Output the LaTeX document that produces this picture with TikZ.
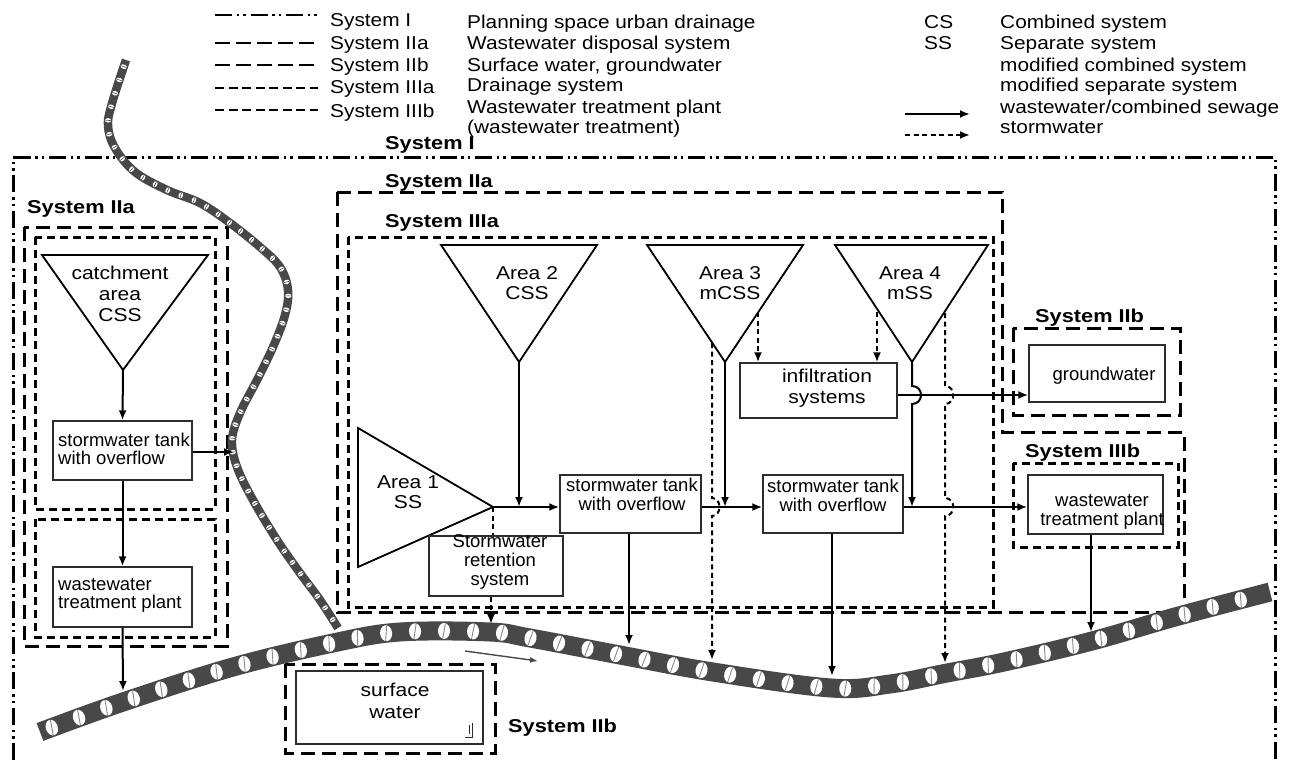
\documentclass[tikz,border=0pt]{standalone}
\usepackage{fontspec}
\setmainfont{Liberation Sans}
\newfontfamily\legf[FakeStretch=1.12]{Liberation Sans}
\newfontfamily\widef[FakeStretch=1.13]{Liberation Sans}
\newfontfamily\labf[FakeStretch=1.17]{Liberation Sans}
\usetikzlibrary{arrows.meta,decorations.markings}
\definecolor{rivc}{RGB}{72,72,72}
\definecolor{boxc}{RGB}{45,45,45}
\tikzset{
  sysI/.style={line width=3pt, dash pattern=on 17pt off 4.5pt on 2.5pt off 4pt on 2.5pt off 5pt},
  sysII/.style={line width=3pt, dash pattern=on 14pt off 7pt},
  sysIII/.style={line width=3pt, dash pattern=on 8pt off 5pt},
  boxn/.style={draw=boxc, line width=1.4pt, inner sep=0pt},
  trin/.style={draw=black, line width=1.8pt, line join=miter},
  flow/.style={line width=2pt, -{Latex[length=10pt,width=8pt]}},
  storm/.style={line width=2pt, dash pattern=on 5pt off 3.5pt, -{Latex[length=10pt,width=8pt]}},
  stormline/.style={line width=2pt, dash pattern=on 5pt off 3.5pt},
  txt/.style={font=\fontsize{18.5}{19}\selectfont, align=center, inner sep=0pt},
  wtxt/.style={font=\widef\fontsize{18.6}{20.5}\selectfont, align=center, inner sep=0pt},
  leg/.style={font=\legf\fontsize{18.6}{21}\selectfont, anchor=base west, inner sep=0pt},
  lab/.style={font=\labf\bfseries\fontsize{18.6}{21}\selectfont, anchor=base west, inner sep=0pt},
  bigriver/.style={draw=rivc, line width=19pt, postaction={decorate},
    decoration={markings, mark=between positions 0.01 and 0.995 step 29pt with {
      \fill[white] (0,0) ellipse [x radius=6pt, y radius=8pt];
      \draw[rivc!65, line width=0.9pt] (-1.3pt,-7.5pt) -- (1.3pt,7.5pt);}}},
  smallriver/.style={draw=rivc, line width=8.5pt, postaction={decorate},
    decoration={markings, mark=between positions 0.01 and 0.99 step 14pt with {
      \fill[white] (0,0) ellipse [x radius=2.2pt, y radius=3.2pt];
      \draw[rivc, line width=0.6pt] (0,-3pt) -- (0,3pt);}}}
}
\begin{document}
\begin{tikzpicture}[x=1pt,y=-1pt]
\useasboundingbox (0,0) rectangle (1293,760);

% ---------------- legend ----------------
\coordinate (L1a) at (215,15);  \coordinate (L1b) at (318,15);
\coordinate (L2a) at (215,43);  \coordinate (L2b) at (318,43);
\coordinate (L3a) at (215,65);  \coordinate (L3b) at (318,65);
\coordinate (L4a) at (215,88);  \coordinate (L4b) at (318,88);
\coordinate (L5a) at (215,110); \coordinate (L5b) at (318,110);
\draw[sysI, line width=2.6pt] (L1a) -- (L1b);
\draw[sysII, line width=2.6pt, dash pattern=on 15pt off 6pt] (L2a) -- (L2b);
\draw[sysII, line width=2.6pt, dash pattern=on 15pt off 6pt] (L3a) -- (L3b);
\draw[sysIII, line width=2.6pt, dash pattern=on 9pt off 4.5pt] (L4a) -- (L4b);
\draw[sysIII, line width=2.6pt, dash pattern=on 9pt off 4.5pt] (L5a) -- (L5b);

\node[leg] (k1) at (330,27) {System I};
\node[leg] (k2) at (330,50) {System IIa};
\node[leg] (k3) at (330,72) {System IIb};
\node[leg] (k4) at (330,93) {System IIIa};
\node[leg] (k5) at (330,117) {System IIIb};

\node[leg] (m1) at (467,29) {Planning space urban drainage};
\node[leg] (m2t) at (467,50) {Wastewater disposal system};
\node[leg] (m3t) at (467,71) {Surface water, groundwater};
\node[leg] (m4t) at (467,92) {Drainage system};
\node[leg] (m5t) at (467,113) {Wastewater treatment plant};
\node[leg] (m6t) at (467,133) {(wastewater treatment)};

\node[leg] (cs) at (924,29) {CS};
\node[leg] (ss) at (924,50) {SS};
\node[leg] (r1t) at (1000,29) {Combined system};
\node[leg] (r2t) at (1000,50) {Separate system};
\node[leg] (r3t) at (1000,71) {modified combined system};
\node[leg] (r4t) at (1000,92) {modified separate system};
\node[leg] (r5t) at (1000,113) {wastewater/combined sewage};
\node[leg] (r6t) at (1000,133) {stormwater};
\coordinate (A1a) at (905,114); \coordinate (A1b) at (970,114);
\coordinate (A2a) at (905,135); \coordinate (A2b) at (970,135);
\draw[flow] (A1a) -- (A1b);
\draw[storm] (A2a) -- (A2b);

% ---------------- system frames ----------------
\draw[sysI] (13,760) -- (13,157) -- (1275,157) -- (1275,760);
\node[lab] (lI) at (385,149) {System I};

% left
\node[lab] (lIIaL) at (27,213) {System IIa};
\draw[sysII] (24,227) rectangle (227,646);
\draw[sysIII] (35,237) rectangle (215,509);
\draw[sysIII] (35,519) rectangle (215,637);

% centre
\node[lab] (lIIa) at (385,187) {System IIa};
\draw[sysII] (337,192) -- (1002,192) -- (1002,432) -- (1184,432) -- (1184,612) -- (337,612) -- cycle;
\node[lab] (lIIIa) at (385,227) {System IIIa};
\draw[sysIII] (348,237) rectangle (993,607);

% right
\node[lab] (lIIbR) at (1035,322) {System IIb};
\draw[sysII] (1013,328) rectangle (1180,415);
\node[lab] (lIIIb) at (1025,457) {System IIIb};
\draw[sysIII] (1013,463) rectangle (1178,547);

% bottom
\draw[sysII] (285,664) rectangle (495,753);
\node[lab] (lIIbB) at (508,732) {System IIb};

% ---------------- rivers ----------------
\path[smallriver] plot[smooth, tension=0.6] coordinates {(126,60) (113,100) (108,125) (115,148) (135,172) (167,190) (200,203) (230,223) (260,247) (280,267) (288,290) (285,315) (273,347) (257,380) (240,413) (232,440) (237,467) (253,500) (277,540) (300,573) (320,600) (338,628)};
\path[bigriver] plot[smooth, tension=0.6] coordinates {(40,732) (123,702) (233,667) (333,643) (400,632) (490,632) (530,638) (620,655) (713,672) (831,688) (890,684) (947,673) (1004,662) (1092,641) (1175,617) (1270,592)};
\coordinate (fa) at (465,651); \coordinate (fb) at (538,661);
\draw[rivc, line width=1.4pt, -{Latex[length=8pt,width=6pt]}] (fa) -- (fb);

% ---------------- left column ----------------
\coordinate (t0a) at (42,255); \coordinate (t0b) at (208,255); \coordinate (a0) at (123,370);
\draw[trin] (t0a) -- (t0b) -- (a0) -- cycle;
\node[wtxt, font=\widef\fontsize{18.6}{21}\selectfont] (catcht) at (120,294) {catchment\\area\\CSS};
\node[boxn, minimum width=139pt, minimum height=59pt] (tank1) at (122.5,450.5) {};
\node[txt, anchor=west, align=left, font=\fontsize{18.5}{18}\selectfont] (tank1t) at (58,449) {stormwater tank\\with overflow};
\node[boxn, minimum width=139pt, minimum height=60pt] (wwtp1) at (122.5,597) {};
\node[txt, anchor=west, align=left, font=\fontsize{18.5}{18}\selectfont] (wwtp1t) at (58,595) {wastewater\\treatment plant};
\coordinate (r0) at (234,452);
\coordinate (r1) at (123,691);
\draw[flow] (a0) -- (tank1.north);
\draw[flow] (tank1.south) -- (wwtp1.north);
\draw[flow] (wwtp1.south) -- (r1);
\draw[flow] (tank1.east |- r0) -- (r0);

% ---------------- centre ----------------
\coordinate (t2a) at (441,245); \coordinate (t2b) at (597,245); \coordinate (a2) at (519,362);
\draw[trin] (t2a) -- (t2b) -- (a2) -- cycle;
\node[wtxt] (a2t) at (527,283) {Area 2\\CSS};

\coordinate (t1a) at (358,428); \coordinate (t1b) at (358,567); \coordinate (a1) at (493,507);
\draw[trin] (t1a) -- (a1) -- (t1b) -- cycle;
\node[wtxt] (a1t) at (408,492) {Area 1\\SS};

\coordinate (t3a) at (647,245); \coordinate (t3b) at (803,245); \coordinate (a3) at (725,362);
\draw[trin] (t3a) -- (t3b) -- (a3) -- cycle;
\node[wtxt] (a3t) at (730,283) {Area 3\\mCSS};

\coordinate (t4a) at (835,245); \coordinate (t4b) at (988,245); \coordinate (a4) at (912,362);
\draw[trin] (t4a) -- (t4b) -- (a4) -- cycle;
\node[wtxt] (a4t) at (910,283) {Area 4\\mSS};

\node[boxn, minimum width=141pt, minimum height=58pt] (tank2) at (630.5,504) {};
\node[txt] (tank2t) at (632,494) {stormwater tank\\with overflow};
\node[boxn, minimum width=134pt, minimum height=60pt] (ret) at (496,566) {};
\node[txt] (rett) at (500,562) {Stormwater\\retention\\system};
\node[boxn, minimum width=157pt, minimum height=55pt] (infil) at (818.5,390.5) {};
\node[wtxt, font=\widef\fontsize{18.6}{21}\selectfont] (infilt) at (827,388) {infiltration\\systems};
\node[boxn, minimum width=140pt, minimum height=58pt] (tank3) at (833,504) {};
\node[txt] (tank3t) at (833,495) {stormwater tank\\with overflow};

% right boxes
\node[boxn, minimum width=136pt, minimum height=57pt] (gw) at (1097,373.5) {};
\node[txt] (gwt) at (1104,376) {groundwater};
\node[boxn, minimum width=135pt, minimum height=59pt] (wwtp2) at (1095.5,504.5) {};
\node[txt] (wwtp2t) at (1102,512) {wastewater\\treatment plant};

% surface water
\node[boxn, minimum width=187pt, minimum height=73pt] (sw) at (389.5,707.5) {};
\node[wtxt, font=\widef\fontsize{18.6}{22}\selectfont] (swt) at (395,701) {surface\\water};
\draw[boxc, line width=1pt] (465,737) -- (472,737) -- (472,723);
\draw[boxc, line width=0.8pt] (469,725) -- (469,734);

% ---------------- connectors ----------------
\coordinate (m2) at (519,507);
\coordinate (m3) at (725,507);
\coordinate (m4) at (912,507);
\coordinate (yI) at (0,395);
\coordinate (r2) at (491,624);
\coordinate (r3) at (629,645);
\coordinate (r5) at (832,676);
\coordinate (r7) at (1091,632);
\coordinate (d3) at (712,343);
\coordinate (r4) at (712,660);
\coordinate (e3) at (758,312);
\coordinate (e4) at (877,312);
\coordinate (d4) at (945,313);
\coordinate (r6) at (945,663);

% solid flows
\draw[flow] (a1) -- (a1 -| tank2.west);
\draw[flow] (a2) -- (m2);
\draw[flow] (tank2.east |- a1) -- (tank3.west |- a1);
\draw[flow] (a3) -- (m3);
\draw[flow] (a4) -- (912,386) .. controls (924,386) and (924,404) .. (912,404) -- (m4);
\draw[flow] (tank3.east |- a1) -- (wwtp2.west |- a1);
\draw[flow] (infil.east |- yI) -- (gw.west |- yI);
\draw[flow] (r3 |- tank2.south) -- (r3);
\draw[flow] (r5 |- tank3.south) -- (r5);
\draw[flow] (r7 |- wwtp2.south) -- (r7);

% stormwater flows
\draw[stormline] (a1) -- (a1 |- ret.north);
\draw[storm] (r2 |- ret.south) -- (r2);
\draw[storm] (e3) -- (e3 |- infil.north);
\draw[storm] (e4) -- (e4 |- infil.north);
\draw[storm] (d3) -- (712,498) .. controls (722,498) and (722,516) .. (712,516) -- (r4);
\draw[storm] (d4) -- (945,386) .. controls (956,386) and (956,404) .. (945,404) -- (945,498) .. controls (956,498) and (956,516) .. (945,516) -- (r6);

\end{tikzpicture}
\end{document}
